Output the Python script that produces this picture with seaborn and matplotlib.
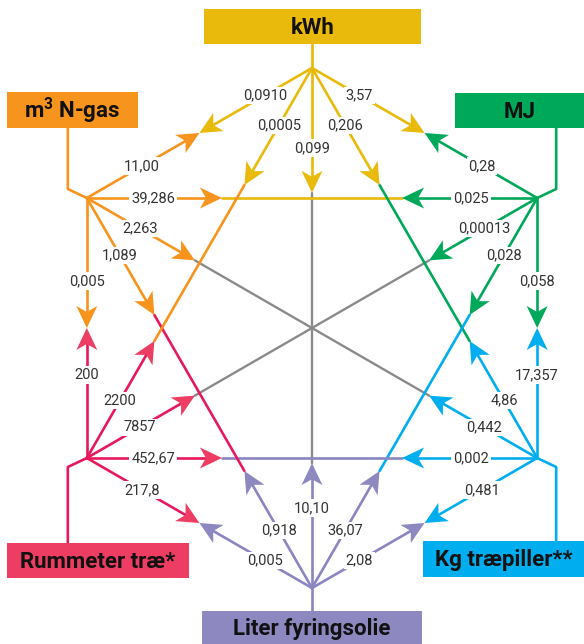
import numpy as np
import pandas as pd
import matplotlib
matplotlib.use("Agg")
import matplotlib.pyplot as plt
import seaborn as sns
from matplotlib.patches import Polygon, Rectangle

# units in hexagon order (top, then clockwise)
units = ["kWh", "MJ", "Kg træpiller**", "Liter fyringsolie", "Rummeter træ*", r"m$^{\mathbf{3}}$ N-gas"]
colors = ["#E9B90B", "#00A859", "#00AEEF", "#8E88C0", "#EE3D63", "#F7941E"]
line_colors = ["#E9B90B", "#00A859", "#00AEEF", "#8B85C1", "#E8185C", "#F7941E"]

# conversion factors: 1 unit of source = value of target (target order = units)
kwh_to = [None, "3,57", "0,206", "0,099", "0,0005", "0,0910"]
mj_to = ["0,28", None, "0,058", "0,028", "0,00013", "0,025"]
kg_to = ["4,86", "17,357", None, "0,481", "0,002", "0,442"]
liter_to = ["10,10", "36,07", "2,08", None, "0,005", "0,918"]
rum_to = ["2200", "7857", "452,67", "217,8", None, "200"]
gas_to = ["11,00", "39,286", "2,263", "1,089", "0,005", None]
factors = [kwh_to, mj_to, kg_to, liter_to, rum_to, gas_to]

GRAY = "#8A8A8A"
W, H = 584, 644
CX, CY, R = 312, 328, 260
angles = np.deg2rad([90, 30, -30, -90, -150, 150])
hub = np.column_stack([CX + R * np.cos(angles), CY - R * np.sin(angles)])

# boxes: center x, center y, width, height
boxes = [(312.5, 26.5, 217, 35), (519.5, 110.5, 129, 35), (503.5, 559, 161, 36),
         (312, 628, 220, 34), (98, 560.5, 182, 35), (72.5, 110, 131, 36)]

tip_frac = {1: 0.5, 2: 0.3, 3: 0.24}
HEAD_L, HEAD_W, NOTCH = 22, 10.5, 6


def sep(i, j):
    d = abs(i - j)
    return min(d, 6 - d)


def tip(i, j):
    return hub[i] + tip_frac[sep(i, j)] * (hub[j] - hub[i])


def label_frac(i, j):
    d = hub[j] - hub[i]
    if abs(d[0]) < 1:
        return 0.64
    if sep(i, j) == 1 and i in (0, 3):
        return 0.42
    return 0.49


rows = []
gray_rows = []
seg = 0
# arrow shafts
for i in range(6):
    for j in range(6):
        if i == j:
            continue
        p0, p1 = hub[i], tip(i, j)
        d = (p1 - p0) / np.linalg.norm(p1 - p0)
        p1 = p1 - d * HEAD_L * 0.6
        for p in (p0, p1):
            rows.append((seg, p[0], p[1], line_colors[i]))
        seg += 1
# connectors between tips
for i in range(6):
    for j in range(i + 1, 6):
        s = sep(i, j)
        if s == 1:
            continue
        a, b = tip(i, j), tip(j, i)
        if s == 3:
            for p in (a, b):
                gray_rows.append((seg, p[0], p[1], GRAY))
        else:
            m = (i + 1) % 6 if (i + 2) % 6 == j else (i - 1) % 6
            for p in (a, b):
                rows.append((seg, p[0], p[1], line_colors[m]))
        seg += 1
# stubs from hubs to boxes
for k in range(6):
    hx, hy = hub[k]
    bx, by, bw, bh = boxes[k]
    edge = by + bh / 2 if hy > by else by - bh / 2
    if abs(hx - CX) < 1:
        pts = [(hx, hy), (hx, edge)]
    else:
        sx = np.sign(hx - CX)
        sy = np.sign(hy - CY)
        bend = (hx + sx * 19, hy + sy * 9)
        pts = [(hx, hy), bend, (bend[0], edge)]
    for p in pts:
        rows.append((seg, p[0], p[1], line_colors[k]))
    seg += 1

df = pd.DataFrame(rows, columns=["seg", "x", "y", "color"])
gdf = pd.DataFrame(gray_rows, columns=["seg", "x", "y", "color"])

sns.set_theme(style="white")
plt.rcParams["font.family"] = ["Roboto", "DejaVu Sans"]
plt.rcParams["mathtext.fontset"] = "custom"
plt.rcParams["mathtext.rm"] = "Roboto"
plt.rcParams["mathtext.bf"] = "Roboto:bold"

fig = plt.figure(figsize=(W / 100, H / 100), dpi=100)
ax = fig.add_axes([0, 0, 1, 1])

sns.lineplot(data=gdf, x="x", y="y", units="seg", hue="color", palette={GRAY: GRAY},
             estimator=None, sort=False, linewidth=1.7, legend=False, ax=ax)
sns.lineplot(data=df, x="x", y="y", units="seg", hue="color",
             palette={c: c for c in line_colors}, estimator=None, sort=False,
             linewidth=1.9, legend=False, ax=ax)

# arrowheads and labels
for i in range(6):
    for j in range(6):
        if i == j:
            continue
        p0, p1 = hub[i], tip(i, j)
        d = (p1 - p0) / np.linalg.norm(p1 - p0)
        n = np.array([-d[1], d[0]])
        head = [p1, p1 - HEAD_L * d + HEAD_W * n, p1 - (HEAD_L - NOTCH) * d,
                p1 - HEAD_L * d - HEAD_W * n]
        ax.add_patch(Polygon(head, closed=True, facecolor=colors[i], edgecolor="none", zorder=4))
        lp = p0 + label_frac(i, j) * (p1 - p0)
        ax.text(lp[0], lp[1], factors[i][j], ha="center", va="center", fontsize=10.5,
                color="#333333", zorder=5,
                bbox=dict(boxstyle="square,pad=0.12", facecolor="white", edgecolor="none"))

for k in range(6):
    bx, by, bw, bh = boxes[k]
    ax.add_patch(Rectangle((bx - bw / 2, by - bh / 2), bw, bh, facecolor=colors[k],
                           edgecolor="none", zorder=6))
    ax.text(bx, by + 1, units[k], ha="center", va="center", fontsize=16,
            fontweight="bold", color="#111111", zorder=7)

ax.set_xlim(0, W)
ax.set_ylim(H, 0)
ax.axis("off")
fig.savefig("out.png", dpi=100)
